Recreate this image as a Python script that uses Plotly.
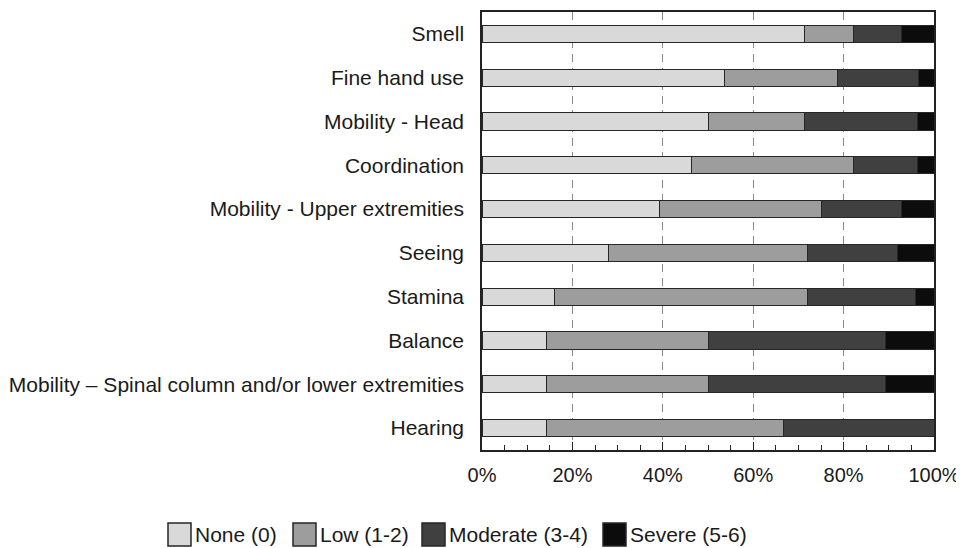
import plotly.graph_objects as go

categories = ["Smell", "Fine hand use", "Mobility - Head", "Coordination",
              "Mobility - Upper extremities", "Seeing", "Stamina", "Balance",
              "Mobility – Spinal column and/or lower extremities", "Hearing"]
none_vals = [71.4, 53.6, 50.0, 46.4, 39.3, 28.0, 16.0, 14.3, 14.3, 14.3]
low_vals = [10.7, 25.0, 21.4, 35.7, 35.7, 44.0, 56.0, 35.7, 35.7, 52.4]
moderate_vals = [10.7, 17.9, 25.0, 14.3, 17.9, 20.0, 24.0, 39.3, 39.3, 33.3]
severe_vals = [7.2, 3.5, 3.6, 3.6, 7.1, 8.0, 4.0, 10.7, 10.7, 0.0]
series_names = ["None (0)", "Low (1-2)", "Moderate (3-4)", "Severe (5-6)"]
series_colors = ["#d9d9d9", "#9d9d9d", "#404040", "#0c0c0c"]
x_ticks = [0, 20, 40, 60, 80, 100]

# page body has an 8px margin, so the figure is drawn 8px smaller and shifted
OFF = 8
W, H = 964 - OFF, 548 - OFF
L, R, T, B = 482 - OFF, 30, 12 - OFF, 98
pw, ph = W - L - R, H - T - B

def px_x(p):
    return (p - OFF - L) / pw

def px_y(p):
    return (H - B - (p - OFF)) / ph

fig = go.Figure()
for name, vals, col in zip(series_names, [none_vals, low_vals, moderate_vals, severe_vals], series_colors):
    fig.add_trace(go.Bar(
        y=categories, x=vals, name=name, orientation="h",
        marker=dict(color=col, line=dict(color="#262626", width=1)),
        showlegend=False,
    ))

# manual legend (box left edges in screen px)
legend_box_x = [168, 293, 422, 603]
box_size = 23
legend_yc = 534.5
for name, col, bx in zip(series_names, series_colors, legend_box_x):
    fig.add_shape(type="rect", xref="paper", yref="paper",
                  x0=px_x(bx), x1=px_x(bx + box_size),
                  y0=px_y(legend_yc + box_size / 2), y1=px_y(legend_yc - box_size / 2),
                  fillcolor=col, line=dict(color="#262626", width=1.5))
    fig.add_annotation(xref="paper", yref="paper", x=px_x(bx + box_size + 3), y=px_y(legend_yc),
                       xanchor="left", yanchor="middle", text=name, showarrow=False,
                       font=dict(size=21), borderpad=0)

font_family = "Liberation Sans, Arial, sans-serif"
fig.update_layout(
    barmode="stack", bargap=0.61,
    width=W, height=H,
    margin=dict(l=L, r=R, t=T, b=B, autoexpand=False),
    paper_bgcolor="white", plot_bgcolor="white",
    font=dict(family=font_family, size=20, color="#1a1a1a"),
    showlegend=False,
    xaxis=dict(range=[0, 100], tickvals=x_ticks, ticktext=[f"{v}%" for v in x_ticks],
               showgrid=True, gridcolor="#8a8a8a", griddash="8px,6px", gridwidth=1,
               ticks="inside", ticklen=8, tickcolor="#222", tickwidth=1,
               minor=dict(dtick=5, ticks="inside", ticklen=5, tickcolor="#222", showgrid=False),
               showline=True, linecolor="#222", linewidth=1.5, mirror=True,
               ticklabelstandoff=6, tickfont=dict(size=20),
               zeroline=False, fixedrange=True),
    yaxis=dict(autorange="reversed", showgrid=False, ticks="",
               showline=True, linecolor="#222", linewidth=1.5, mirror=True,
               ticklabelstandoff=12, tickfont=dict(size=21), fixedrange=True),
)
fig.write_html("out.html")
